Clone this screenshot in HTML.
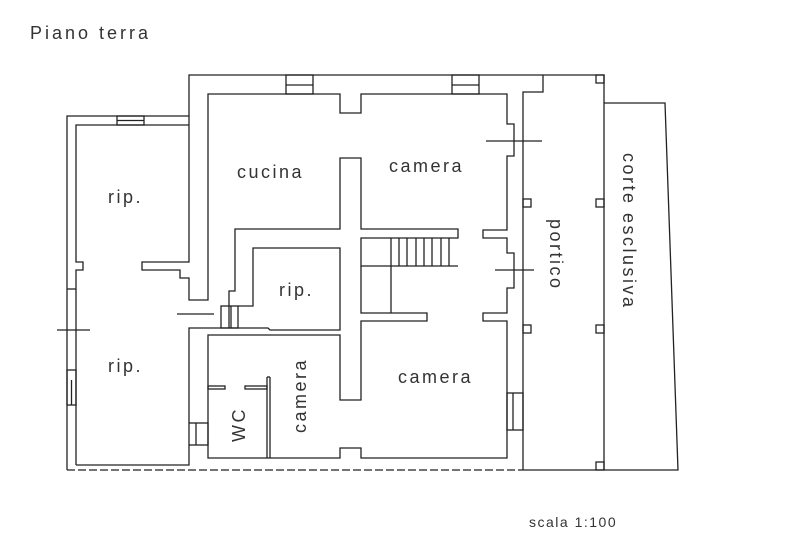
<!DOCTYPE html>
<html><head><meta charset="utf-8"><style>
html,body{margin:0;padding:0;background:#fff;}
svg{display:block;}
text{font-family:"Liberation Sans",sans-serif;fill:#333;}
</style></head><body>
<svg width="800" height="553" viewBox="0 0 800 553" xmlns="http://www.w3.org/2000/svg">
<rect width="800" height="553" fill="#fff"/>
<g fill="none" stroke="#222" stroke-width="1.3">
<polyline points="67,470 67,116 189,116 189,75 604,75 604,470"/>
<polyline points="76,465 76,270 83,270 83,262 76,262 76,125 189,125"/>
<polyline points="189,116 189,262 142,262 142,270 180,270 180,278 189,278 189,300 208,300 208,94 340,94 340,113 361,113 361,94 507,94 507,124 514,124 514,156 507,156 507,230 483,230 483,238 507,238 507,253 514,253 514,288 507,288 507,313 483,313 483,321 507,321 507,458 361,458 361,448 340,448 340,458 208,458 208,335 340,335 340,400 361,400 361,321 427,321 427,313 361,313 361,266"/>
<polyline points="76,465 189,465 189,445"/>
<rect x="189" y="423" width="19" height="22"/>
<line x1="196" y1="423" x2="196" y2="445"/>
<polyline points="189,423 189,328 268,328 270,330 340,330 340,248 253,248 253,306 238,306"/>
<polyline points="229,306 229,291 235,291 235,229 340,229 340,158 361,158 361,229 458,229 458,238 361,238 361,266 458,266"/>
<line x1="391" y1="238" x2="391" y2="313"/>
<line x1="449" y1="238" x2="449" y2="266"/>
<line x1="399" y1="238" x2="399" y2="266"/>
<line x1="407" y1="238" x2="407" y2="266"/>
<line x1="416" y1="238" x2="416" y2="266"/>
<line x1="424" y1="238" x2="424" y2="266"/>
<line x1="432" y1="238" x2="432" y2="266"/>
<line x1="441" y1="238" x2="441" y2="266"/>
<rect x="221" y="306" width="17" height="22"/>
<line x1="229" y1="306" x2="229" y2="328"/>
<line x1="231" y1="306" x2="231" y2="328"/>
<line x1="177" y1="314" x2="214" y2="314"/>
<line x1="267" y1="377" x2="267" y2="458"/>
<line x1="270" y1="377" x2="270" y2="458"/>
<line x1="267" y1="377" x2="270" y2="377"/>
<rect x="208" y="386" width="17" height="3"/>
<rect x="245" y="386" width="22" height="3"/>
<rect x="117" y="116" width="27" height="9"/><line x1="117" y1="120.5" x2="144" y2="120.5"/>
<rect x="286" y="75" width="27" height="19"/><line x1="286" y1="85" x2="313" y2="85"/>
<rect x="452" y="75" width="27" height="19"/><line x1="452" y1="85" x2="479" y2="85"/>
<rect x="67" y="370" width="9" height="35"/><line x1="71.5" y1="380" x2="71.5" y2="405"/>
<line x1="67" y1="289" x2="76" y2="289"/>
<line x1="57" y1="330" x2="90" y2="330"/>
<rect x="507" y="393" width="16" height="37"/><line x1="513" y1="393" x2="513" y2="430"/>
<line x1="486" y1="141" x2="542" y2="141"/>
<line x1="495" y1="270" x2="534" y2="270"/>
<polyline points="523,470 523,92 543,92 543,75"/>
<rect x="523" y="199" width="8" height="8"/>
<rect x="596" y="199" width="8" height="8"/>
<rect x="523" y="325" width="8" height="8"/>
<rect x="596" y="325" width="8" height="8"/>
<rect x="596" y="75" width="8" height="8"/>
<rect x="596" y="462" width="8" height="8"/>
<polyline points="604,103 665,103 678,470 523,470"/>
<line x1="67" y1="470" x2="523" y2="470" stroke-dasharray="8,3"/>
</g>
<g font-size="18" letter-spacing="2.5">
<text x="30" y="39" font-size="18" letter-spacing="3">Piano terra</text>
<text x="108" y="203">rip.</text>
<text x="108" y="372">rip.</text>
<text x="237" y="178">cucina</text>
<text x="389" y="172">camera</text>
<text x="279" y="296">rip.</text>
<text x="398" y="383">camera</text>
<text transform="translate(245,442) rotate(-90)">WC</text>
<text transform="translate(306,433) rotate(-90)">camera</text>
<text transform="translate(550,219) rotate(90)">portico</text>
<text transform="translate(623,153) rotate(90)">corte esclusiva</text>
<text x="529" y="527" font-size="14" letter-spacing="1.5">scala 1:100</text>
</g>
</svg>
</body></html>
